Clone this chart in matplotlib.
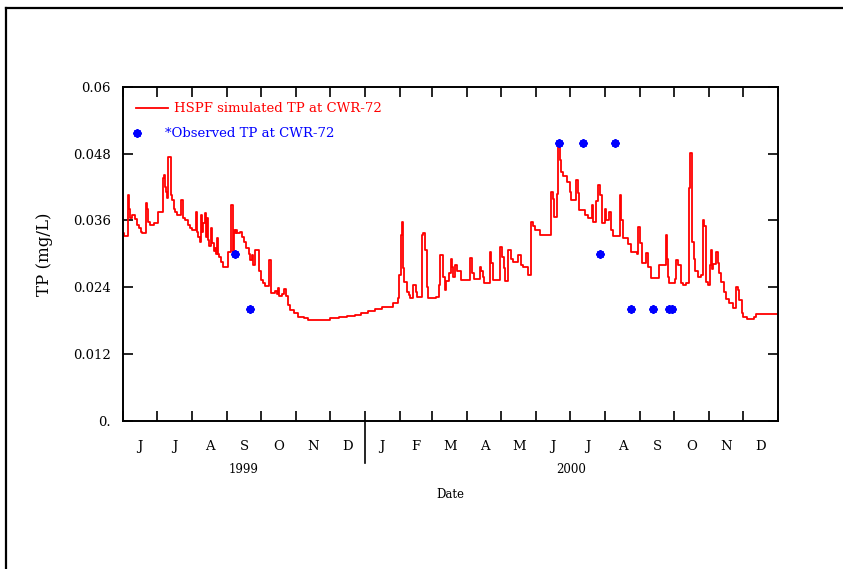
import matplotlib
matplotlib.use("Agg")
import matplotlib.pyplot as plt
from matplotlib.lines import Line2D
import pandas as pd

# HSPF simulated TP (mg/L), step series: date where value changes -> value
sim_dates = [
    "1999-06-01", "1999-06-02", "1999-06-05", "1999-06-06", "1999-06-07", "1999-06-09",
    "1999-06-11", "1999-06-13", "1999-06-15", "1999-06-17", "1999-06-18", "1999-06-21",
    "1999-06-22", "1999-06-23", "1999-06-25", "1999-06-28", "1999-07-02", "1999-07-06",
    "1999-07-07", "1999-07-08", "1999-07-09", "1999-07-10", "1999-07-11", "1999-07-13",
    "1999-07-14", "1999-07-16", "1999-07-17", "1999-07-19", "1999-07-22", "1999-07-24",
    "1999-07-26", "1999-07-28", "1999-07-30", "1999-08-01", "1999-08-04", "1999-08-05",
    "1999-08-06", "1999-08-08", "1999-08-09", "1999-08-10", "1999-08-11", "1999-08-12",
    "1999-08-13", "1999-08-14", "1999-08-15", "1999-08-16", "1999-08-18", "1999-08-19",
    "1999-08-20", "1999-08-21", "1999-08-22", "1999-08-23", "1999-08-24", "1999-08-25",
    "1999-08-27", "1999-08-28", "1999-09-02", "1999-09-04", "1999-09-06", "1999-09-07",
    "1999-09-08", "1999-09-09", "1999-09-10", "1999-09-12", "1999-09-14", "1999-09-16",
    "1999-09-18", "1999-09-20", "1999-09-21", "1999-09-23", "1999-09-24", "1999-09-26",
    "1999-09-29", "1999-10-01", "1999-10-03", "1999-10-05", "1999-10-08", "1999-10-10",
    "1999-10-13", "1999-10-15", "1999-10-16", "1999-10-17", "1999-10-20", "1999-10-21",
    "1999-10-23", "1999-10-25", "1999-10-27", "1999-10-30", "1999-11-03", "1999-11-08",
    "1999-11-12", "1999-12-01", "1999-12-09", "1999-12-16", "1999-12-23", "1999-12-29",
    "2000-01-04", "2000-01-10", "2000-01-16", "2000-01-26", "2000-01-30", "2000-01-31",
    "2000-02-02", "2000-02-03", "2000-02-04", "2000-02-05", "2000-02-07", "2000-02-09",
    "2000-02-10", "2000-02-13", "2000-02-15", "2000-02-16", "2000-02-21", "2000-02-22",
    "2000-02-23", "2000-02-25", "2000-02-26", "2000-03-04", "2000-03-07", "2000-03-08",
    "2000-03-10", "2000-03-12", "2000-03-13", "2000-03-16", "2000-03-17", "2000-03-18",
    "2000-03-19", "2000-03-21", "2000-03-23", "2000-03-26", "2000-04-03", "2000-04-05",
    "2000-04-07", "2000-04-12", "2000-04-13", "2000-04-15", "2000-04-16", "2000-04-21",
    "2000-04-22", "2000-04-24", "2000-04-30", "2000-05-02", "2000-05-03", "2000-05-04",
    "2000-05-07", "2000-05-10", "2000-05-11", "2000-05-16", "2000-05-18", "2000-05-20",
    "2000-05-25", "2000-05-27", "2000-05-29", "2000-05-31", "2000-06-04", "2000-06-14",
    "2000-06-16", "2000-06-17", "2000-06-19", "2000-06-20", "2000-06-22", "2000-06-23",
    "2000-06-25", "2000-06-28", "2000-07-01", "2000-07-02", "2000-07-06", "2000-07-08",
    "2000-07-09", "2000-07-14", "2000-07-17", "2000-07-20", "2000-07-21", "2000-07-24",
    "2000-07-26", "2000-07-27", "2000-07-29", "2000-08-01", "2000-08-02", "2000-08-04",
    "2000-08-06", "2000-08-08", "2000-08-14", "2000-08-15", "2000-08-17", "2000-08-21",
    "2000-08-24", "2000-08-29", "2000-08-30", "2000-09-01", "2000-09-03", "2000-09-06",
    "2000-09-08", "2000-09-11", "2000-09-18", "2000-09-24", "2000-09-25", "2000-09-26",
    "2000-09-27", "2000-10-02", "2000-10-03", "2000-10-05", "2000-10-07", "2000-10-09",
    "2000-10-12", "2000-10-14", "2000-10-15", "2000-10-17", "2000-10-19", "2000-10-20",
    "2000-10-22", "2000-10-25", "2000-10-27", "2000-10-28", "2000-10-29", "2000-10-31",
    "2000-11-02", "2000-11-03", "2000-11-04", "2000-11-05", "2000-11-07", "2000-11-09",
    "2000-11-10", "2000-11-12", "2000-11-14", "2000-11-16", "2000-11-19", "2000-11-22",
    "2000-11-25", "2000-11-27", "2000-11-28", "2000-11-30", "2000-12-01", "2000-12-05",
    "2000-12-11", "2000-12-13", "2001-01-01",
]
sim_tp = [
    0.0337, 0.0332, 0.0406, 0.0380, 0.0365, 0.0370,
    0.0362, 0.0352, 0.0346, 0.0340, 0.0337, 0.0392,
    0.0380, 0.0358, 0.0352, 0.0355, 0.0376, 0.0436,
    0.0442, 0.0420, 0.0412, 0.0400, 0.0474, 0.0405,
    0.0397, 0.0380, 0.0376, 0.0370, 0.0397, 0.0365,
    0.0360, 0.0352, 0.0346, 0.0343, 0.0376, 0.0340,
    0.0330, 0.0322, 0.0370, 0.0340, 0.0355, 0.0373,
    0.0330, 0.0365, 0.0325, 0.0315, 0.0346, 0.0320,
    0.0305, 0.0310, 0.0300, 0.0328, 0.0300, 0.0295,
    0.0285, 0.0277, 0.0304, 0.0388, 0.0304, 0.0343,
    0.0337, 0.0343, 0.0337, 0.0340, 0.0330, 0.0322,
    0.0310, 0.0300, 0.0289, 0.0298, 0.0280, 0.0307,
    0.0270, 0.0253, 0.0248, 0.0242, 0.0289, 0.0230,
    0.0233, 0.0228, 0.0238, 0.0225, 0.0228, 0.0236,
    0.0224, 0.0208, 0.0199, 0.0193, 0.0187, 0.0184,
    0.0181, 0.0184, 0.0187, 0.0188, 0.0190, 0.0194,
    0.0197, 0.0201, 0.0205, 0.0211, 0.0220, 0.0262,
    0.0334, 0.0358, 0.0274, 0.0250, 0.0231, 0.0226,
    0.0220, 0.0244, 0.0231, 0.0223, 0.0334, 0.0337,
    0.0307, 0.0241, 0.0220, 0.0223, 0.0244, 0.0298,
    0.0259, 0.0235, 0.0252, 0.0265, 0.0290, 0.0276,
    0.0259, 0.0280, 0.0270, 0.0253, 0.0292, 0.0265,
    0.0255, 0.0277, 0.0270, 0.0259, 0.0247, 0.0304,
    0.0283, 0.0253, 0.0313, 0.0295, 0.0275, 0.0252,
    0.0307, 0.0290, 0.0286, 0.0298, 0.0280, 0.0277,
    0.0262, 0.0358, 0.0350, 0.0343, 0.0334, 0.0412,
    0.0398, 0.0367, 0.0408, 0.0493, 0.0469, 0.0448,
    0.0440, 0.0430, 0.0412, 0.0397, 0.0433, 0.0410,
    0.0378, 0.0370, 0.0364, 0.0388, 0.0358, 0.0395,
    0.0424, 0.0405, 0.0355, 0.0380, 0.0360, 0.0376,
    0.0343, 0.0332, 0.0406, 0.0360, 0.0328, 0.0318,
    0.0303, 0.0300, 0.0349, 0.0320, 0.0284, 0.0301,
    0.0277, 0.0256, 0.0280, 0.0334, 0.0290, 0.0259,
    0.0247, 0.0255, 0.0289, 0.0280, 0.0247, 0.0244,
    0.0247, 0.0418, 0.0481, 0.0322, 0.0290, 0.0270,
    0.0258, 0.0262, 0.0360, 0.0350, 0.0250, 0.0244,
    0.0280, 0.0307, 0.0272, 0.0282, 0.0304, 0.0283,
    0.0265, 0.0250, 0.0232, 0.0219, 0.0211, 0.0202,
    0.0241, 0.0235, 0.0217, 0.0193, 0.0187, 0.0182,
    0.0187, 0.0192, 0.0192,
]

# observed TP samples
obs_dates = ["1999-09-08", "1999-09-21", "2000-06-21", "2000-07-12", "2000-07-27",
             "2000-08-10", "2000-08-24", "2000-09-12", "2000-09-27", "2000-09-29"]
obs_tp = [0.030, 0.020, 0.050, 0.050, 0.030, 0.050, 0.020, 0.020, 0.020, 0.020]

month_letters = ["J", "J", "A", "S", "O", "N", "D",
                 "J", "F", "M", "A", "M", "J", "J", "A", "S", "O", "N", "D"]
y_ticks = [0, 0.012, 0.024, 0.036, 0.048, 0.06]
y_labels = ["0.", "0.012", "0.024", "0.036", "0.048", "0.06"]

plt.rcParams['font.family'] = ['DejaVu Serif']

fig = plt.figure(figsize=(8.43, 5.69), dpi=100)
ax = fig.add_axes([123.3 / 843, 1 - 420.7 / 569, 654.5 / 843, 333.7 / 569])

x_sim = pd.to_datetime(sim_dates)
x_obs = pd.to_datetime(obs_dates)
ax.step(x_sim, sim_tp, where='post', color='red', lw=1.3)
ax.plot(x_obs, obs_tp, ls='none', marker=(8, 2, 0), ms=6, mew=1.5, color='blue',
        clip_on=False)

start = pd.Timestamp("1999-06-01")
end = pd.Timestamp("2001-01-01")
ax.set_xlim(start, end)
ax.set_ylim(0, 0.06)

month_starts = pd.date_range(start, end, freq='MS')
mids = [a + (b - a) / 2 for a, b in zip(month_starts[:-1], month_starts[1:])]
ax.set_xticks(month_starts)
ax.set_xticklabels([])
ax.set_xticks(mids, minor=True)
ax.set_xticklabels(month_letters, minor=True)
ax.tick_params(axis='x', which='major', direction='in', length=7, width=1.2,
               top=True)
ax.tick_params(axis='x', which='minor', length=0, pad=14, labelsize=9.5)
ax.set_yticks(y_ticks)
ax.set_yticklabels(y_labels)
ax.tick_params(axis='y', direction='in', length=7, width=1.2, right=True,
               labelsize=9.5, pad=9)
for s in ax.spines.values():
    s.set_linewidth(1.4)

ax.set_ylabel("TP (mg/L)", fontsize=12, labelpad=14)
ax.set_xlabel("Date", fontsize=8.5, labelpad=25)

# year labels and separator
trans = ax.get_xaxis_transform()
ax.text(start + (pd.Timestamp("2000-01-01") - start) / 2, -0.145, "1999",
        transform=trans, ha='center', va='center', fontsize=8.5)
ax.text(pd.Timestamp("2000-01-01") + (end - pd.Timestamp("2000-01-01")) / 2, -0.145,
        "2000", transform=trans, ha='center', va='center', fontsize=8.5)
ax.add_line(Line2D([pd.Timestamp("2000-01-01")] * 2, [0, -0.127], transform=trans,
                   color='black', lw=1.2, clip_on=False))

# legend drawn by hand to match the original layout
ax.add_line(Line2D([0.019, 0.068], [0.937, 0.937], transform=ax.transAxes,
                   color='red', lw=1.3))
ax.text(0.077, 0.937, "HSPF simulated TP at CWR-72", transform=ax.transAxes,
        color='red', va='center', ha='left', fontsize=9.5)
ax.plot([0.021], [0.862], transform=ax.transAxes, marker=(8, 2, 0), ms=6,
        mew=1.5, color='blue', ls='none')
ax.text(0.063, 0.862, "*Observed TP at CWR-72", transform=ax.transAxes,
        color='blue', va='center', ha='left', fontsize=9.5)

# outer frame (left and top edges visible)
fig.add_artist(Line2D([6 / 843, 6 / 843], [0, 1 - 8 / 569], transform=fig.transFigure,
                      color='black', lw=1.6))
fig.add_artist(Line2D([6 / 843, 1], [1 - 8 / 569, 1 - 8 / 569], transform=fig.transFigure,
                      color='black', lw=1.6))

fig.savefig("out.png", dpi=100)
